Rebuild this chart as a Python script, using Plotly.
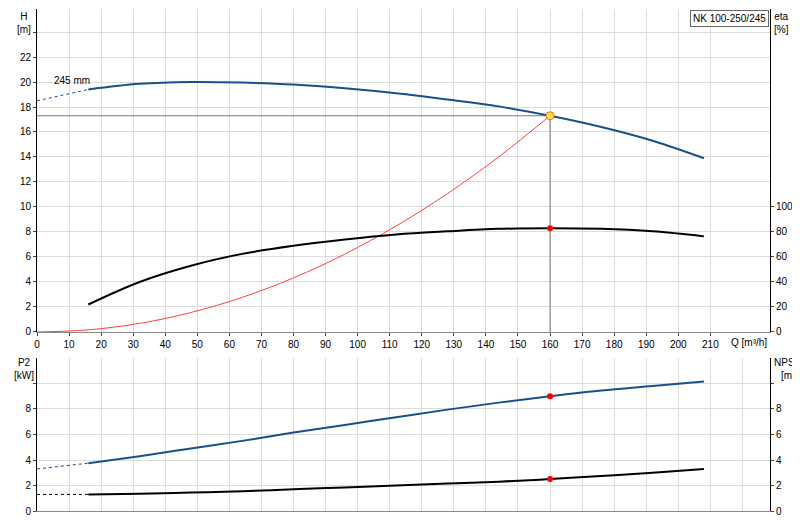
import plotly.graph_objects as go

q = [16, 32, 48, 64, 80, 96, 112, 128, 144, 160, 176, 192, 208]
head = [19.4, 19.85, 20.0, 19.95, 19.8, 19.5, 19.1, 18.6, 18.05, 17.3, 16.4, 15.3, 13.9]
head_ext_q = [0, 16]
head_ext = [18.5, 19.4]
eta = [22, 40, 53, 62.5, 69, 74, 78, 80.5, 82.5, 83, 82.5, 80.5, 76.5]
sys_q = [0, 16, 32, 48, 64, 80, 96, 112, 128, 144, 160]
sys_h = [0, 0.17, 0.69, 1.56, 2.77, 4.33, 6.23, 8.48, 11.07, 14.01, 17.3]
p2 = [3.75, 4.3, 4.9, 5.5, 6.15, 6.75, 7.35, 7.95, 8.5, 9.0, 9.45, 9.8, 10.15]
p2_ext = [3.3, 3.75]
npsh = [1.3, 1.35, 1.45, 1.55, 1.7, 1.85, 2.0, 2.15, 2.3, 2.5, 2.75, 3.0, 3.3]
npsh_ext = [1.3, 1.3]
op_q, op_h, op_eta, op_p2, op_npsh = 160, 17.3, 83, 9.0, 2.5
x_ticks = list(range(0, 220, 10))

BLUE = "#1a4f8c"
fig = go.Figure()
fig.add_trace(go.Scatter(x=[0, op_q], y=[op_h, op_h], mode="lines", line=dict(color="#777", width=1), xaxis="x", yaxis="y"))
fig.add_trace(go.Scatter(x=[op_q, op_q], y=[0, op_h], mode="lines", line=dict(color="#777", width=1), xaxis="x", yaxis="y"))
fig.add_trace(go.Scatter(x=sys_q, y=sys_h, mode="lines", line=dict(color="#ff4040", width=1, shape="spline"), xaxis="x", yaxis="y"))
fig.add_trace(go.Scatter(x=head_ext_q, y=head_ext, mode="lines", line=dict(color=BLUE, width=1, dash="dot"), xaxis="x", yaxis="y"))
fig.add_trace(go.Scatter(x=q, y=head, mode="lines", line=dict(color=BLUE, width=2, shape="spline"), xaxis="x", yaxis="y"))
fig.add_trace(go.Scatter(x=q, y=eta, mode="lines", line=dict(color="black", width=2, shape="spline"), xaxis="x", yaxis="y3"))
fig.add_trace(go.Scatter(x=[op_q], y=[op_eta], mode="markers", marker=dict(color="red", size=6), xaxis="x", yaxis="y3"))
fig.add_trace(go.Scatter(x=[op_q], y=[op_h], mode="markers", marker=dict(color="#ffd84a", size=8, line=dict(color="#e08000", width=1)), xaxis="x", yaxis="y"))
fig.add_trace(go.Scatter(x=head_ext_q, y=p2_ext, mode="lines", line=dict(color=BLUE, width=1, dash="dot"), xaxis="x2", yaxis="y2"))
fig.add_trace(go.Scatter(x=q, y=p2, mode="lines", line=dict(color=BLUE, width=2, shape="spline"), xaxis="x2", yaxis="y2"))
fig.add_trace(go.Scatter(x=head_ext_q, y=npsh_ext, mode="lines", line=dict(color="black", width=1, dash="dot"), xaxis="x2", yaxis="y4"))
fig.add_trace(go.Scatter(x=q, y=npsh, mode="lines", line=dict(color="black", width=2, shape="spline"), xaxis="x2", yaxis="y4"))
fig.add_trace(go.Scatter(x=[op_q], y=[op_p2], mode="markers", marker=dict(color="red", size=6), xaxis="x2", yaxis="y2"))
fig.add_trace(go.Scatter(x=[op_q], y=[op_npsh], mode="markers", marker=dict(color="red", size=6), xaxis="x2", yaxis="y4"))

font = dict(family="Liberation Sans, Arial", size=10, color="black")
grid = "#dcdcdc"
xr = [0, 228.6]
top_dom = [0.3566, 1.0]
bot_dom = [0.0, 0.3048]
fig.update_layout(
    width=800, height=520, margin=dict(l=29, r=38, t=1, b=17, autoexpand=False),
    paper_bgcolor="white", plot_bgcolor="white", showlegend=False, font=font,
    xaxis=dict(domain=[0, 1], range=xr, tickvals=x_ticks, showgrid=True, gridcolor=grid, anchor="y", automargin=False,
               ticks="outside", ticklen=3, showline=True, linecolor="#888", zeroline=False),
    xaxis2=dict(domain=[0, 1], range=xr, tickvals=x_ticks + [220], showticklabels=False, showgrid=True, gridcolor=grid,
                anchor="y2", showline=True, linecolor="#888", zeroline=False, automargin=False),
    yaxis=dict(domain=top_dom, range=[0, 25.84], tickvals=list(range(0, 26, 2)), automargin=False,
               ticktext=[str(v) if v <= 22 else "" for v in range(0, 26, 2)], showgrid=True, gridcolor=grid,
               ticks="outside", ticklen=3, showline=True, linecolor="black", zeroline=False, anchor="x"),
    yaxis3=dict(overlaying="y", side="right", range=[0, 258.4], tickvals=[0, 20, 40, 60, 80, 100], automargin=False,
                showgrid=False, ticks="outside", ticklen=3, showline=True, linecolor="black", anchor="x", zeroline=False),
    yaxis2=dict(domain=bot_dom, range=[0, 12], tickvals=[0, 2, 4, 6, 8, 10], ticktext=["0", "2", "4", "6", "8", ""],
                showgrid=True, gridcolor=grid, ticks="outside", ticklen=3, showline=True, linecolor="black",
                zeroline=False, anchor="x2", automargin=False),
    yaxis4=dict(overlaying="y2", side="right", range=[0, 12], tickvals=[0, 2, 4, 6, 8, 10], ticktext=["0", "2", "4", "6", "8", ""],
                showgrid=False, ticks="outside", ticklen=3, showline=True, linecolor="black", anchor="x2", zeroline=False,
                automargin=False),
)
ann = [
    dict(text="H<br>[m]", x=-0.018, y=1.0, xanchor="center", yanchor="top", xref="paper", yref="paper"),
    dict(text="eta<br>[%]", x=1.003, y=1.0, xanchor="left", yanchor="top", xref="paper", yref="paper"),
    dict(text="P2<br>[kW]", x=-0.018, y=0.31, xanchor="center", yanchor="top", xref="paper", yref="paper"),
    dict(text="NPSH<br>[m]", x=1.025, y=0.31, xanchor="center", yanchor="top", xref="paper", yref="paper"),
    dict(text="Q [m³/h]", x=222, y=0, xref="x", yref="y", yshift=-11, xanchor="center", yanchor="middle"),
    dict(text="245 mm", x=11, y=19.5, xref="x", yref="y", xanchor="center", yanchor="bottom"),
    dict(text="NK 100-250/245", x=0.998, y=0.998, xref="paper", yref="paper", xanchor="right", yanchor="top",
         bordercolor="#666", borderwidth=1, bgcolor="white", borderpad=2),
]
for a in ann:
    a.setdefault("showarrow", False)
    a.setdefault("font", font)
fig.update_layout(annotations=ann)
fig.write_html("out.html")
